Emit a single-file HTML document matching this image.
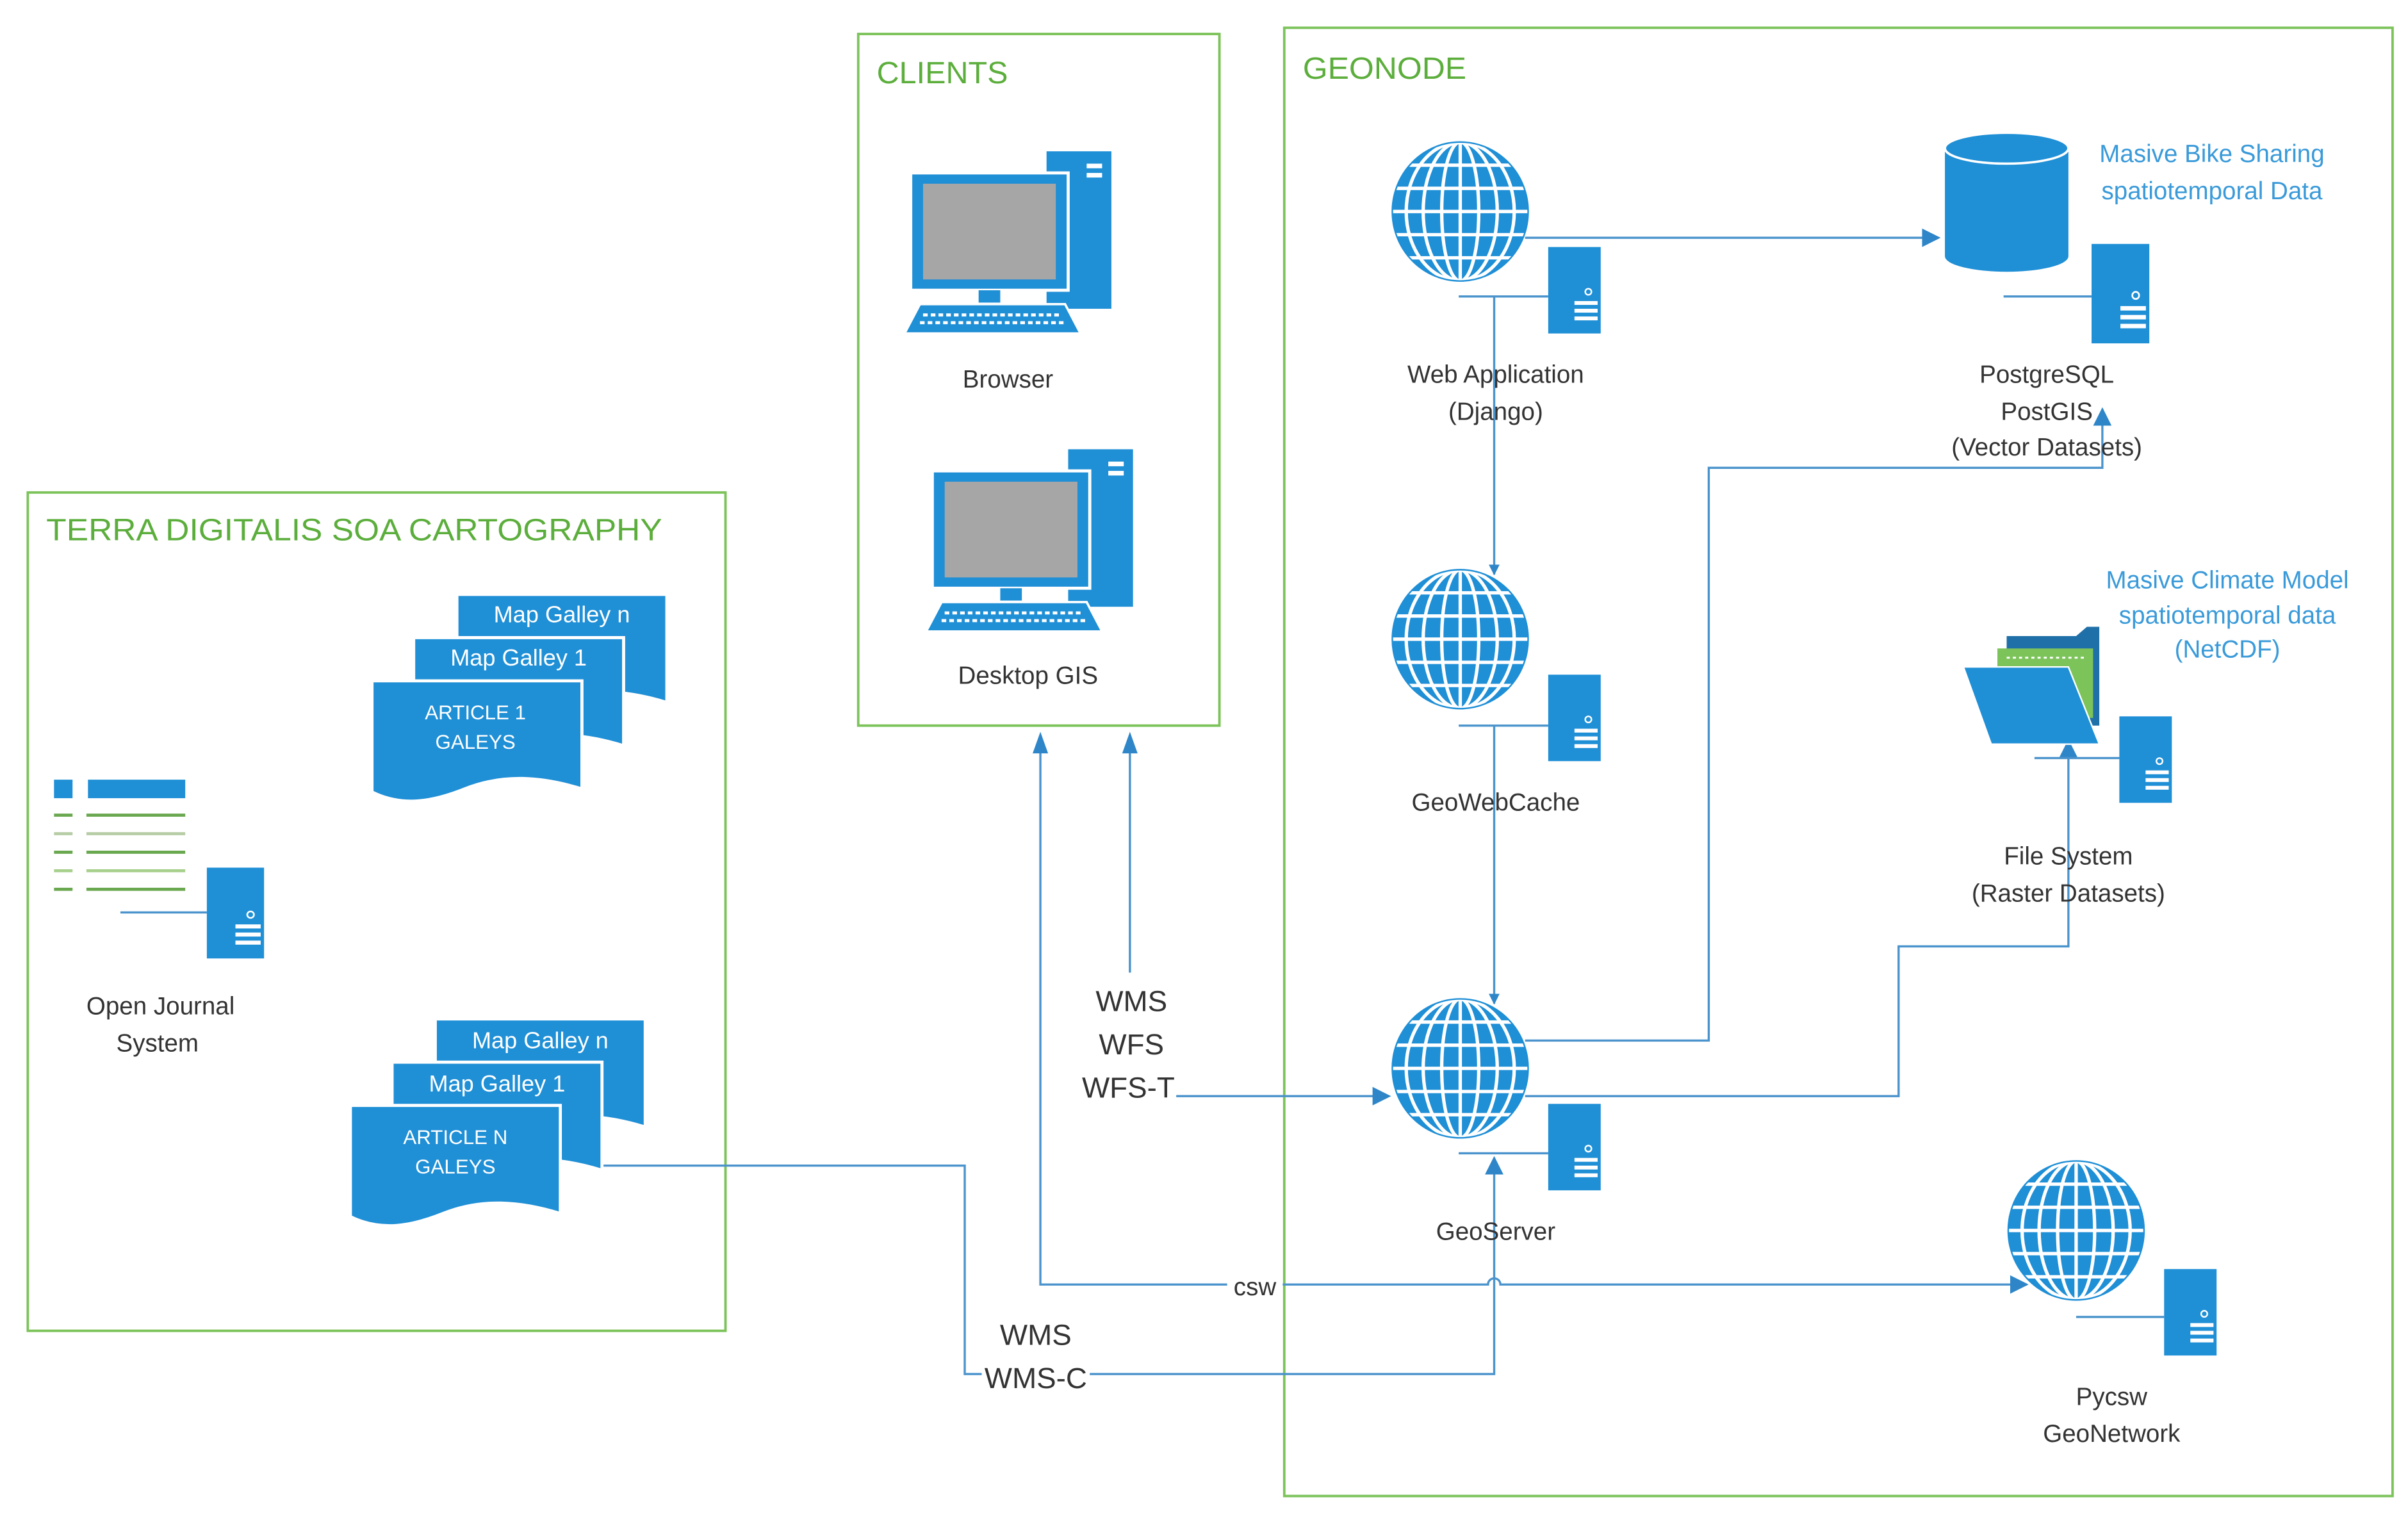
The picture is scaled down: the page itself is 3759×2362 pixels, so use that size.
<!DOCTYPE html>
<html><head><meta charset="utf-8"><style>
html,body{margin:0;padding:0;background:#fff;}
svg{display:block;}
text{font-family:"Liberation Sans",sans-serif;}
</style></head><body>
<svg width="3759" height="2362" viewBox="0 0 1560 980" preserveAspectRatio="none" xmlns="http://www.w3.org/2000/svg">
<defs>
  <clipPath id="gc"><ellipse cx="0" cy="0" rx="44" ry="45"/></clipPath>
  <g id="globe">
    <ellipse cx="0" cy="0" rx="44" ry="45" fill="#1f8fd6"/>
    <g clip-path="url(#gc)" stroke="#fff" stroke-width="2.2" fill="none">
      <line x1="-50" y1="-30" x2="50" y2="-30"/><line x1="-50" y1="-15" x2="50" y2="-15"/>
      <line x1="-50" y1="0" x2="50" y2="0"/><line x1="-50" y1="15" x2="50" y2="15"/>
      <line x1="-50" y1="30" x2="50" y2="30"/>
      <line x1="0" y1="-50" x2="0" y2="50"/>
      <ellipse cx="0" cy="0" rx="12" ry="45"/><ellipse cx="0" cy="0" rx="24" ry="45"/>
      <ellipse cx="0" cy="0" rx="35" ry="45"/>
    </g>
    <ellipse cx="0" cy="0" rx="44" ry="45" fill="none" stroke="#1f8fd6" stroke-width="1"/>
  </g>
  <g id="server">
    <rect x="0" y="0" width="34" height="56" fill="#1f8fd6"/>
    <circle cx="26" cy="29" r="2" fill="none" stroke="#fff" stroke-width="1"/>
    <rect x="17" y="35" width="15" height="2.5" fill="#fff"/>
    <rect x="17" y="40" width="15" height="2.5" fill="#fff"/>
    <rect x="17" y="45" width="15" height="2.5" fill="#fff"/>
  </g>
  <g id="pc">
    <rect x="92" y="0" width="42" height="102" fill="#1f8fd6"/>
    <rect x="118" y="8" width="10" height="3" fill="#fff"/><rect x="118" y="14" width="10" height="3" fill="#fff"/>
    <rect x="4" y="14" width="102" height="76" fill="#1f8fd6" stroke="#fff" stroke-width="2"/>
    <rect x="12" y="21" width="86" height="62" fill="#a6a6a6"/>
    <rect x="48" y="90" width="14" height="8" fill="#1f8fd6"/>
    <path d="M10 99 H104 L114 118 H0 Z" fill="#1f8fd6" stroke="#fff" stroke-width="1.5"/>
    <line x1="12" y1="106" x2="102" y2="106" stroke="#fff" stroke-width="2" stroke-dasharray="3 2"/>
    <line x1="10" y1="111" x2="104" y2="111" stroke="#fff" stroke-width="2" stroke-dasharray="3 2"/>
  </g>
  <path id="doc" d="M0 0 H136 V70 C110 62 85 60 60 70 C40 78 20 82 0 72 Z" fill="#1f8fd6" stroke="#fff" stroke-width="2"/>
  <marker id="ar" viewBox="0 0 10 10" refX="9" refY="5" markerWidth="7" markerHeight="7" orient="auto" markerUnits="userSpaceOnUse">
    <path d="M0 0 L10 5 L0 10 Z" fill="#2e86c8"/>
  </marker>
  <marker id="ar2" viewBox="0 0 10 10" refX="9" refY="5" markerWidth="12" markerHeight="12" orient="auto" markerUnits="userSpaceOnUse">
    <path d="M0 0 L10 5 L0 10 Z" fill="#2e86c8"/>
  </marker>
</defs>

<g fill="none" stroke="#7cc35a" stroke-width="1.6">
  <rect x="18" y="319" width="452" height="543"/>
  <rect x="556" y="22" width="234" height="448"/>
  <rect x="832" y="18" width="718" height="951"/>
</g>
<g fill="#5cae3c" font-size="20">
  <text x="30" y="350" textLength="399" lengthAdjust="spacingAndGlyphs">TERRA   DIGITALIS SOA CARTOGRAPHY</text>
  <text x="568" y="54" textLength="85" lengthAdjust="spacingAndGlyphs">CLIENTS</text>
  <text x="844" y="51" textLength="106" lengthAdjust="spacingAndGlyphs">GEONODE</text>
</g>

<g stroke="#4a93cc" stroke-width="1.4" fill="none">
  <polyline points="988,154 1256,154" marker-end="url(#ar2)"/>
  <polyline points="968,192 968,372" marker-end="url(#ar)"/>
  <polyline points="968,470 968,650" marker-end="url(#ar)"/>
  <polyline points="988,674 1107,674 1107,303 1362,303 1362,265" marker-end="url(#ar2)"/>
  <polyline points="988,710 1230,710 1230,613 1340,613 1340,480" marker-end="url(#ar2)"/>
  <polyline points="762,710 900,710" marker-end="url(#ar2)"/>
  <polyline points="732,630 732,480"/>
  <polyline points="674,480 674,832 795,832"/>
  <path d="M831 832 H964 a4 4 0 0 1 8 0 H1313" marker-end="url(#ar2)"/>
  <polyline points="388,755 625,755 625,890 636,890"/>
  <polyline points="706,890 968,890 968,750" marker-end="url(#ar2)"/>
  <line x1="945" y1="192" x2="1003" y2="192"/>
  <line x1="945" y1="470" x2="1003" y2="470"/>
  <line x1="945" y1="747" x2="1003" y2="747"/>
  <line x1="1345" y1="853" x2="1402" y2="853"/>
  <line x1="1298" y1="192" x2="1355" y2="192"/>
  <line x1="1318" y1="491" x2="1373" y2="491"/>
  <line x1="78" y1="591" x2="134" y2="591"/>
</g>
<path d="M674 474 l-5 14 h10 z M732 474 l-5 14 h10 z" fill="#2e86c8"/>

<use href="#pc" x="586" y="98"/>
<use href="#pc" x="600" y="291"/>

<use href="#globe" x="946" y="137"/><use href="#server" x="1003" y="160"/>
<use href="#globe" x="946" y="414"/><use href="#server" x="1003" y="437"/>
<use href="#globe" x="946" y="692"/><use href="#server" x="1003" y="715"/>
<use href="#globe" x="1345" y="797"/><use href="#server" x="1402" y="822"/>

<path d="M1260 96 V166 A40 10 0 0 0 1340 166 V96 Z" fill="#1f8fd6"/>
<ellipse cx="1300" cy="96" rx="40" ry="10" fill="#1f8fd6" stroke="#fff" stroke-width="1.5"/>
<g transform="translate(1355,158) scale(1.1,1.15)"><use href="#server"/></g>

<path d="M1300 412 H1345 L1352 406 H1360 V470 H1300 Z" fill="#1f6fa8"/>
<rect x="1294" y="420" width="62" height="45" fill="#7cc35a"/>
<line x1="1300" y1="426" x2="1350" y2="426" stroke="#fff" stroke-width="1.2" stroke-dasharray="2 2"/>
<path d="M1272 432 H1340 L1360 482 H1290 Z" fill="#1f8fd6" stroke="#fff" stroke-width="1"/>
<use href="#server" x="1373" y="464"/>

<rect x="35" y="505" width="12" height="12" fill="#1f8fd6"/>
<rect x="57" y="505" width="63" height="12" fill="#1f8fd6"/>
<g stroke="#6aa84f" stroke-width="2">
  <line x1="35" y1="528" x2="47" y2="528"/><line x1="56" y1="528" x2="120" y2="528"/>
  <line x1="35" y1="540" x2="47" y2="540" stroke="#b6cda5"/><line x1="56" y1="540" x2="120" y2="540" stroke="#b6cda5"/>
  <line x1="35" y1="552" x2="47" y2="552"/><line x1="56" y1="552" x2="120" y2="552"/>
  <line x1="35" y1="564" x2="47" y2="564" stroke="#a8d08d"/><line x1="56" y1="564" x2="120" y2="564" stroke="#a8d08d"/>
  <line x1="35" y1="576" x2="47" y2="576"/><line x1="56" y1="576" x2="120" y2="576"/>
</g>
<g transform="translate(134,562) scale(1.09,1.05)"><use href="#server"/></g>

<use href="#doc" x="296" y="385"/>
<use href="#doc" x="268" y="413"/>
<use href="#doc" x="241" y="441"/>
<use href="#doc" x="282" y="660"/>
<use href="#doc" x="254" y="688"/>
<use href="#doc" x="227" y="716"/>
<g fill="#fff" font-size="15" text-anchor="middle">
  <text x="364" y="403">Map Galley n</text>
  <text x="336" y="431">Map Galley 1</text>
  <text x="350" y="679">Map Galley n</text>
  <text x="322" y="707">Map Galley 1</text>
</g>
<g fill="#fff" font-size="13" text-anchor="middle">
  <text x="308" y="466">ARTICLE 1</text><text x="308" y="485">GALEYS</text>
  <text x="295" y="741">ARTICLE N</text><text x="295" y="760">GALEYS</text>
</g>

<g fill="#333" font-size="16" text-anchor="middle">
  <text x="653" y="251">Browser</text>
  <text x="666" y="443">Desktop GIS</text>
  <text x="969" y="248">Web Application</text>
  <text x="969" y="272">(Django)</text>
  <text x="969" y="525">GeoWebCache</text>
  <text x="969" y="803">GeoServer</text>
  <text x="1326" y="248">PostgreSQL</text>
  <text x="1326" y="272">PostGIS</text>
  <text x="1326" y="295">(Vector Datasets)</text>
  <text x="1340" y="560">File System</text>
  <text x="1340" y="584">(Raster Datasets)</text>
  <text x="1368" y="910">Pycsw</text>
  <text x="1368" y="934">GeoNetwork</text>
  <text x="104" y="657">Open Journal</text>
  <text x="102" y="681">System</text>
  <text x="813" y="839">csw</text>
</g>
<g fill="#333" font-size="19" text-anchor="middle">
  <text x="733" y="655">WMS</text>
  <text x="733" y="683">WFS</text>
  <text x="731" y="711">WFS-T</text>
  <text x="671" y="871">WMS</text>
  <text x="671" y="899">WMS-C</text>
</g>
<g fill="#3a9ad9" font-size="16" text-anchor="middle">
  <text x="1433" y="105">Masive Bike Sharing</text>
  <text x="1433" y="129">spatiotemporal Data</text>
  <text x="1443" y="381">Masive Climate Model</text>
  <text x="1443" y="404">spatiotemporal data</text>
  <text x="1443" y="426">(NetCDF)</text>
</g>
</svg>
</body></html>
